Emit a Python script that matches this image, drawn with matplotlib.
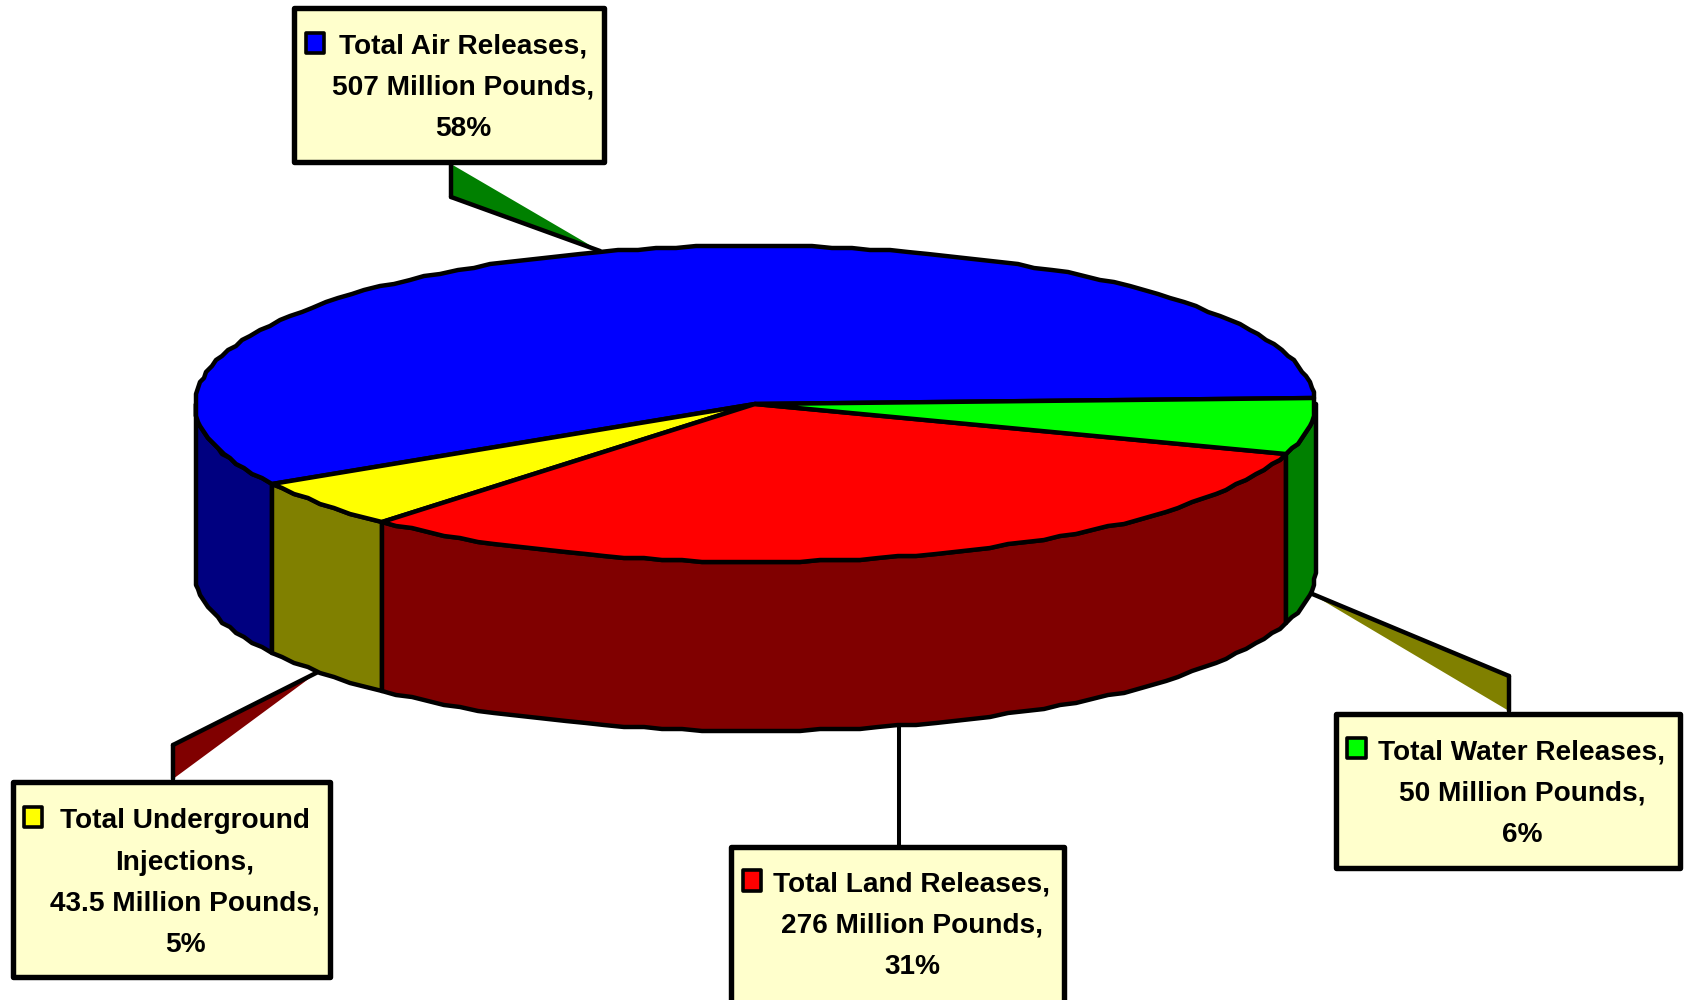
import numpy as np
import matplotlib
matplotlib.use("Agg")
import matplotlib.pyplot as plt
from matplotlib.patches import Polygon, Rectangle

plt.rcParams['font.family'] = ['Liberation Sans', 'DejaVu Sans']

# Data, in drawing order (counter-clockwise from the start angle)
categories = ["Total Air Releases", "Total Underground Injections",
              "Total Land Releases", "Total Water Releases"]
values = [507, 43.5, 276, 50]
value_labels = ["507", "43.5", "276", "50"]
percents = [58, 5, 31, 6]
top_colors = ["#0000FF", "#FFFF00", "#FF0000", "#00FF00"]
side_colors = ["#000080", "#808000", "#800000", "#008000"]

W, H = 1690, 1000
fig = plt.figure(figsize=(W / 100, H / 100), dpi=100, facecolor="white")
ax = fig.add_axes([0, 0, 1, 1])
ax.set_xlim(0, W)
ax.set_ylim(H, 0)
ax.axis("off")

cx, cy, a, b, depth = 755, 404, 560, 158, 169
start_angle = 2.0
LW = 3.2
BOX_LW = 3.9


def rim(t1, t2, dy=0):
    n = max(2, int(abs(t2 - t1) / 2.0) + 1)
    t = np.radians(np.linspace(t1, t2, n))
    x = cx + a * np.cos(t)
    y = cy - b * np.sin(t)
    # the reference has a slightly stepped outline
    x = np.round(x / 2) * 2
    y = np.round(y / 2) * 2 + dy
    return np.column_stack([x, y])


# leader lines (behind the pie)
def leader(pts, fc, edges):
    ax.add_patch(Polygon(pts, closed=True, fc=fc, ec="none", zorder=1))
    for i, j in edges:
        ax.plot([pts[i][0], pts[j][0]], [pts[i][1], pts[j][1]], color="black",
                lw=LW, solid_capstyle="round", zorder=1.1)


leader([(451, 164), (451, 197), (600, 251)], "#008000", [(0, 1), (1, 2)])
leader([(173, 779), (173, 745), (318, 672)], "#800000", [(0, 1), (1, 2)])
leader([(1509, 711), (1509, 676), (1310, 593)], "#808000", [(0, 1), (1, 2)])
ax.plot([899, 899], [720, 844], color="black", lw=2.9, zorder=1.1)

# wedge angles come from the values
spans = 360 * np.array(values) / np.sum(values)
edges = start_angle + np.concatenate([[0], np.cumsum(spans)])

# side faces: only the front half of the cylinder is visible
for i in range(len(values)):
    t1, t2 = max(edges[i], 180), min(edges[i + 1], 360)
    if t2 <= t1:
        continue
    pts = np.vstack([rim(t1, t2), rim(t1, t2, depth)[::-1]])
    ax.add_patch(Polygon(pts, closed=True, fc=side_colors[i], ec="black", lw=LW,
                         joinstyle="round", zorder=2))

# top faces
for i in range(len(values)):
    pts = np.vstack([[(cx, cy)], rim(edges[i], edges[i + 1])])
    ax.add_patch(Polygon(pts, closed=True, fc=top_colors[i], ec="black", lw=LW,
                         joinstyle="round", zorder=3))

# callout boxes: (left, top, right, bottom), text centre x, first line y, key box, lines
boxes = {
    0: ((294.5, 7.5, 604.5, 161.5), 463, 46.5, (306, 33, 324, 53),
        ["Total Air Releases,", "{} Million Pounds,", "{}%"]),
    1: ((13.5, 781.5, 330.5, 976.5), 185, 821.5, (24, 807, 42, 827),
        ["Total Underground", "Injections,", "{} Million Pounds,", "{}%"]),
    2: ((731.5, 846.5, 1064.5, 1010), 912, 884.5, (743, 870, 761, 891),
        ["Total Land Releases,", "{} Million Pounds,", "{}%"]),
    3: ((1336.5, 713.5, 1680.5, 867.5), 1522, 752.5, (1347, 738, 1366, 758),
        ["Total Water Releases,", "{} Million Pounds,", "{}%"]),
}
for i, (box, tx, ty, key, lines) in boxes.items():
    l, t, r, btm = box
    ax.add_patch(Rectangle((l, t), r - l, btm - t, fc="#FFFFCC", ec="black",
                           lw=BOX_LW, joinstyle="round", zorder=4))
    kl, kt, kr, kb = key
    ax.add_patch(Rectangle((kl, kt), kr - kl, kb - kt, fc=top_colors[i], ec="black",
                           lw=2.6, joinstyle="round", zorder=5))
    for n, line in enumerate(lines):
        s = line
        if "Million" in line:
            s = line.format(value_labels[i])
        elif "%" in line:
            s = line.format(percents[i])
        ax.text(tx, ty + n * 41.2, s, ha="center", va="center", fontsize=20.2,
                fontweight="bold", color="black", zorder=6)

fig.savefig("out.png", dpi=100, facecolor="white")
